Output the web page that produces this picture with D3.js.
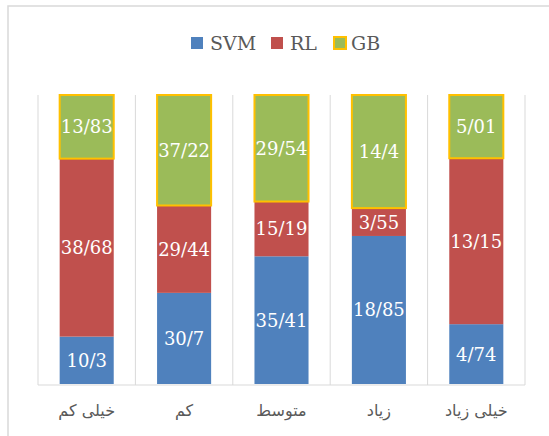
<!DOCTYPE html>
<html>
<head>
<meta charset="utf-8">
<script src="https://cdn.jsdelivr.net/npm/d3@7"></script>
<style>
  body { margin: 0; background: #fff; }
</style>
</head>
<body>
<script>
var categories = ["خیلی کم", "کم", "متوسط", "زیاد", "خیلی زیاد"];
var seriesNames = ["SVM", "RL", "GB"];
var svmValues = [10.3, 30.7, 35.41, 18.85, 4.74];
var rlValues = [38.68, 29.44, 15.19, 3.55, 13.15];
var gbValues = [13.83, 37.22, 29.54, 14.4, 5.01];

var colors = { SVM: "#4f81bd", RL: "#c0504d", GB: "#9bbb59" };

var rows = categories.map(function(c, i) {
  return { cat: c, SVM: svmValues[i], RL: rlValues[i], GB: gbValues[i] };
});

var svg = d3.select("body").append("svg")
    .attr("width", 549)
    .attr("height", 436);

// outer chart frame (only left and top visible)
svg.append("rect")
    .attr("x", 8).attr("y", 6)
    .attr("width", 600).attr("height", 500)
    .attr("fill", "none")
    .attr("stroke", "#d9d9d9")
    .attr("stroke-width", 1.5);

var x = d3.scaleBand().domain(categories).range([38, 525]).paddingInner(0.445).paddingOuter(0.2225);
var y = d3.scaleLinear().domain([0, 1]).range([384, 95]);

// vertical grid lines at band edges
var step = x.step();
var edges = d3.range(categories.length + 1).map(function(i) { return 38 + i * step; });
svg.selectAll("line.grid")
    .data(edges)
    .enter().append("line")
    .attr("class", "grid")
    .attr("x1", function(d) { return d; })
    .attr("x2", function(d) { return d; })
    .attr("y1", 95)
    .attr("y2", 385)
    .attr("stroke", "#d9d9d9")
    .attr("stroke-width", 1);

svg.append("line")
    .attr("x1", 38).attr("x2", 525)
    .attr("y1", 385).attr("y2", 385)
    .attr("stroke", "#d9d9d9")
    .attr("stroke-width", 1);

var stack = d3.stack().keys(seriesNames).offset(d3.stackOffsetExpand);
var layers = stack(rows);

var groups = svg.selectAll("g.layer")
    .data(layers)
    .enter().append("g")
    .attr("class", "layer");

groups.selectAll("rect")
    .data(function(d) { return d.map(function(p) { return { key: d.key, p: p }; }); })
    .enter().append("rect")
    .attr("x", function(d) { return x(d.p.data.cat); })
    .attr("width", x.bandwidth())
    .attr("y", function(d) { return y(d.p[1]); })
    .attr("height", function(d) { return y(d.p[0]) - y(d.p[1]); })
    .attr("fill", function(d) { return colors[d.key]; })
    .attr("stroke", function(d) { return d.key == "GB" ? "#ffc000" : "none"; })
    .attr("stroke-width", 2);

groups.selectAll("text")
    .data(function(d) { return d.map(function(p) { return { key: d.key, p: p }; }); })
    .enter().append("text")
    .attr("x", function(d) { return x(d.p.data.cat) + x.bandwidth() / 2; })
    .attr("y", function(d) { return (y(d.p[0]) + y(d.p[1])) / 2; })
    .attr("dy", "0.36em")
    .attr("text-anchor", "middle")
    .attr("font-family", "DejaVu Serif")
    .attr("font-size", "18px")
    .attr("fill", "#ffffff")
    .text(function(d) { return String(d.p.data[d.key]).replace(".", "/"); });

// category labels
svg.selectAll("text.cat")
    .data(categories)
    .enter().append("text")
    .attr("class", "cat")
    .attr("x", function(d) { return x(d) + x.bandwidth() / 2; })
    .attr("y", 416)
    .attr("text-anchor", "middle")
    .attr("direction", "rtl")
    .attr("font-family", "DejaVu Sans")
    .attr("font-size", "16px")
    .attr("fill", "#595959")
    .text(function(d) { return d; });

// legend
var legendX = [191, 271, 334];
var legend = svg.selectAll("g.legend")
    .data(seriesNames)
    .enter().append("g")
    .attr("class", "legend")
    .attr("transform", function(d, i) { return "translate(" + legendX[i] + ",37)"; });

legend.append("rect")
    .attr("width", 12).attr("height", 12)
    .attr("fill", function(d) { return colors[d]; })
    .attr("stroke", function(d) { return d == "GB" ? "#ffc000" : "none"; })
    .attr("stroke-width", 2);

legend.append("text")
    .attr("x", function(d) { return d == "GB" ? 17 : 19; })
    .attr("y", 13)
    .attr("font-family", "DejaVu Serif")
    .attr("font-size", "19px")
    .attr("fill", "#595959")
    .text(function(d) { return d; });
</script>
</body>
</html>
